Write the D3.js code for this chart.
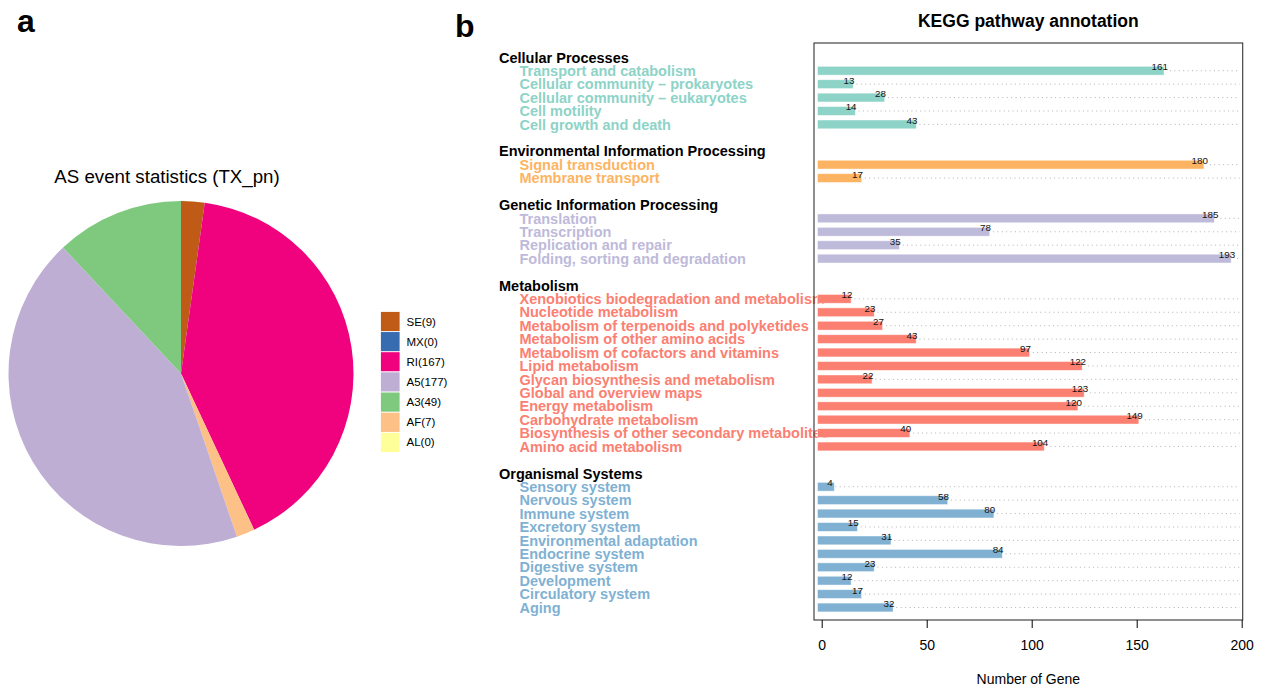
<!DOCTYPE html>
<html>
<head>
<meta charset="utf-8">
<script src="https://cdn.jsdelivr.net/npm/d3@7"></script>
<style>
  html, body { margin: 0; padding: 0; background: #fff; }
  svg { display: block; font-family: "Liberation Sans", Arial, Helvetica, sans-serif; }
</style>
</head>
<body>
<svg id="fig" width="1261" height="687"></svg>
<script>
// ---- Panel a: alternative splicing event counts ----
const eventTypes  = ["SE", "MX", "RI", "A5", "A3", "AF", "AL"];
const eventCounts = [9, 0, 167, 177, 49, 7, 0];
const eventColors = ["#BF5B17", "#386CB0", "#F0027F", "#BEAED4", "#7FC97F", "#FDC086", "#FFFF99"];
// slices are laid out clockwise in this order
const pieOrder    = ["SE", "MX", "RI", "AF", "AL", "A5", "A3"];

// ---- Panel b: KEGG pathway annotation ----
const groupNames = [
  "Cellular Processes",
  "Environmental Information Processing",
  "Genetic Information Processing",
  "Metabolism",
  "Organismal Systems"
];
const groupColors = ["#8DD3C7", "#FDB462", "#BEBADA", "#FB8072", "#80B1D3"];
const cellularPathways = ["Transport and catabolism", "Cellular community – prokaryotes", "Cellular community – eukaryotes", "Cell motility", "Cell growth and death"];
const cellularCounts   = [161, 13, 28, 14, 43];
const environmentalPathways = ["Signal transduction", "Membrane transport"];
const environmentalCounts   = [180, 17];
const geneticPathways = ["Translation", "Transcription", "Replication and repair", "Folding, sorting and degradation"];
const geneticCounts   = [185, 78, 35, 193];
const metabolismPathways = [
  "Xenobiotics biodegradation and metabolism", "Nucleotide metabolism",
  "Metabolism of terpenoids and polyketides", "Metabolism of other amino acids",
  "Metabolism of cofactors and vitamins", "Lipid metabolism",
  "Glycan biosynthesis and metabolism", "Global and overview maps",
  "Energy metabolism", "Carbohydrate metabolism",
  "Biosynthesis of other secondary metabolites", "Amino acid metabolism"
];
const metabolismCounts = [12, 23, 27, 43, 97, 122, 22, 123, 120, 149, 40, 104];
const organismalPathways = [
  "Sensory system", "Nervous system", "Immune system", "Excretory system",
  "Environmental adaptation", "Endocrine system", "Digestive system",
  "Development", "Circulatory system", "Aging"
];
const organismalCounts = [4, 58, 80, 15, 31, 84, 23, 12, 17, 32];
const xTicks = [0, 50, 100, 150, 200];

const svg = d3.select("#fig");
const FONT = "'Liberation Sans', Arial, Helvetica, sans-serif";

// ================= Panel a =================
svg.append("text").attr("x", 17).attr("y", 32)
  .attr("font-size", 32).attr("font-weight", "bold").text("a");

const pieCx = 181, pieCy = 373.5, pieR = 172.5;
svg.append("text").attr("x", 167).attr("y", 183)
  .attr("text-anchor", "middle").attr("font-size", 18.7)
  .text("AS event statistics (TX_pn)");

const events = eventTypes.map((t, i) => ({ type: t, count: eventCounts[i], color: eventColors[i] }));
const pieData = pieOrder.map(t => events.find(e => e.type === t));
const arcs = d3.pie().sort(null).value(d => d.count)(pieData);
const arcGen = d3.arc().innerRadius(0).outerRadius(pieR);
svg.append("g").attr("transform", `translate(${pieCx},${pieCy})`)
  .selectAll("path").data(arcs.filter(a => a.data.count > 0)).join("path")
  .attr("d", arcGen).attr("fill", d => d.data.color);

// legend
const legY = d3.scaleBand().domain(eventTypes).range([311.5, 452.5]);
const leg = svg.append("g");
leg.selectAll("rect").data(events).join("rect")
  .attr("x", 380.5).attr("y", d => legY(d.type))
  .attr("width", 19.5).attr("height", legY.bandwidth())
  .attr("fill", d => d.color).attr("stroke", "#fff").attr("stroke-width", 0.8);
leg.selectAll("text").data(events).join("text")
  .attr("x", 406.5).attr("y", d => legY(d.type) + legY.bandwidth() / 2)
  .attr("dy", "0.35em").attr("font-size", 11.5)
  .text(d => `${d.type}(${d.count})`);

// ================= Panel b =================
svg.append("text").attr("x", 455).attr("y", 37)
  .attr("font-size", 32).attr("font-weight", "bold").text("b");

const groups = [
  { names: cellularPathways, counts: cellularCounts },
  { names: environmentalPathways, counts: environmentalCounts },
  { names: geneticPathways, counts: geneticCounts },
  { names: metabolismPathways, counts: metabolismCounts },
  { names: organismalPathways, counts: organismalCounts }
];

// one row per header and per pathway, with a blank row between groups
const rows = [];
groups.forEach((g, gi) => {
  rows.push({ kind: "header", label: groupNames[gi], group: gi });
  g.names.forEach((n, i) => rows.push({ kind: "item", label: n, value: g.counts[i], group: gi }));
  if (gi < groups.length - 1) rows.push({ kind: "blank" });
});
rows.forEach((r, i) => r.idx = i);

const y = d3.scaleLinear().domain([0, rows.length - 1]).range([57.3, 607.5]);
const x = d3.scaleLinear().domain([0, 200]).range([821.7, 1241.7]);
const boxL = 814, boxR = 1242.7, boxT = 43, boxB = 620;
const barH = 8.8;

// row labels (drawn first so bars sit on top of overlong names)
const labels = svg.append("g").attr("font-weight", "bold").attr("font-size", 14.5);
labels.selectAll("text").data(rows.filter(r => r.kind !== "blank")).join("text")
  .attr("x", d => d.kind === "header" ? 499 : 519.5)
  .attr("y", d => y(d.idx)).attr("dy", "0.36em")
  .attr("fill", d => d.kind === "header" ? "#000" : groupColors[d.group])
  .text(d => d.label);

// chart title
svg.append("text").attr("x", (boxL + boxR) / 2).attr("y", 27)
  .attr("text-anchor", "middle").attr("font-size", 17.5).attr("font-weight", "bold")
  .text("KEGG pathway annotation");

const items = rows.filter(r => r.kind === "item");
const plot = svg.append("g");

// bars
plot.selectAll("rect.bar").data(items).join("rect").attr("class", "bar")
  .attr("x", x(-2)).attr("y", d => y(d.idx) - barH / 2)
  .attr("width", d => x(d.value + 2) - x(-2)).attr("height", barH)
  .attr("fill", d => groupColors[d.group])
  .attr("stroke", "rgba(255,255,255,0.55)").attr("stroke-width", 0.8);

// value labels
const vals = plot.selectAll("text.val").data(items).join("text").attr("class", "val")
  .attr("x", d => x(d.value)).attr("y", d => y(d.idx) - 4).attr("dy", "0.35em")
  .attr("text-anchor", "middle").attr("font-size", 9.8).attr("fill", "#111")
  .text(d => d.value);

// dotted guide from each value label to the right edge
vals.each(function (d) {
  const w = this.getComputedTextLength();
  const x0 = Math.max(x(d.value) + w / 2 + 2, x(d.value + 2) + 1);
  plot.append("line")
    .attr("x1", x0).attr("x2", boxR - 3)
    .attr("y1", y(d.idx)).attr("y2", y(d.idx))
    .attr("stroke", "#aaa").attr("stroke-width", 0.9)
    .attr("stroke-dasharray", "1,3.4");
});

// frame
svg.append("rect").attr("x", boxL).attr("y", boxT)
  .attr("width", boxR - boxL).attr("height", boxB - boxT)
  .attr("fill", "none").attr("stroke", "#333").attr("stroke-width", 1.1);

// x axis
const xAxis = d3.axisBottom(x).tickValues(xTicks).tickSize(8).tickPadding(12).tickSizeOuter(0);
const ax = svg.append("g").attr("transform", `translate(0,${boxB})`).call(xAxis);
ax.select(".domain").remove();
ax.selectAll(".tick line").attr("stroke", "#000").attr("stroke-width", 1);
ax.selectAll(".tick text").attr("font-size", 14).attr("font-family", FONT).attr("fill", "#000");

svg.append("text").attr("x", (boxL + boxR) / 2).attr("y", 684)
  .attr("text-anchor", "middle").attr("font-size", 14)
  .text("Number of Gene");
</script>
</body>
</html>
